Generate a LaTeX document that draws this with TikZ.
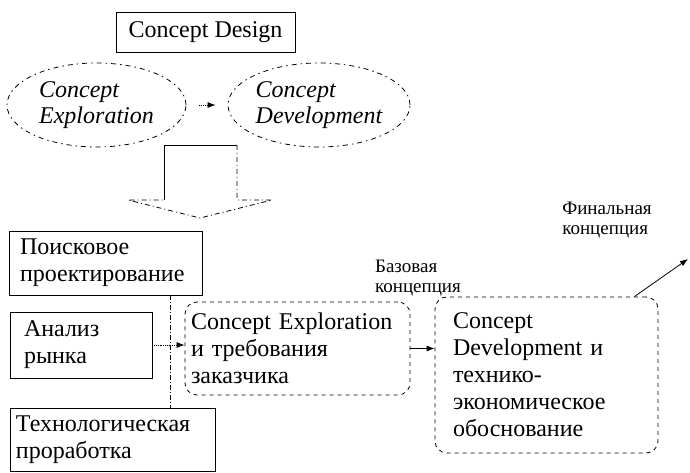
\documentclass[tikz,border=0pt]{standalone}
\usepackage{fontspec}
\setmainfont{Liberation Serif}
\usetikzlibrary{arrows.meta,shapes.geometric}

\begin{document}
\begin{tikzpicture}[x=1pt, y=1pt, line width=0.8pt,
  font=\fontsize{24}{27}\selectfont,
  box/.style={draw, align=left, inner ysep=0pt},
  oval/.style={draw, ellipse, inner sep=0pt, align=left,
    dash pattern=on 5pt off 4pt on 1.5pt off 4pt,
    font=\fontsize{24}{26}\selectfont\itshape},
  rbox/.style={draw, rounded corners=12pt, align=left, inner ysep=0pt,
    dash pattern=on 4pt off 4pt},
  busline/.style={dash pattern=on 5pt off 2pt on 1pt off 2pt},
  lbl/.style={align=left, inner sep=0pt, font=\fontsize{19}{20}\selectfont},
  pointer/.style={-{Latex[length=8pt,width=6pt]}}]
\useasboundingbox (0,0) rectangle (690,473);
% concept design
\node[box, minimum width=179, minimum height=40] (design) at (205.5,441) {Concept Design};
\node[oval, minimum width=179, minimum height=84] (explo) at (96.5,368) {Concept\\ Exploration};
\node[oval, minimum width=182, minimum height=84] (devel) at (319,368) {Concept\\ Development};
\draw[pointer, densely dotted, shorten <=13pt, shorten >=12pt] (explo) -- (devel);
% block arrow down
\draw (164,273) -- (164,328) -- (237,328);
\draw[dash pattern=on 5pt off 3pt on 1pt off 3pt] (237,328) -- (237,273) -- (272,273) -- (200,255) -- (128,273) -- (164,273);
% inputs
\node[box, text width=171, inner xsep=11, minimum height=64] (poisk) at (105.5,210) {Поисковое\\ проектирование};
\node[box, text width=114, inner xsep=14, minimum height=66] (rynok) at (81,128) {Анализ\\ рынка};
\node[box, text width=193, inner xsep=6, minimum height=63] (tekh) at (112.5,33.5) {Технологическая\\ проработка};
\coordinate (bus) at (170,0);
\draw[busline] (poisk.south -| bus) -- (tekh.north -| bus);
% stages
\node[rbox, text width=213, inner xsep=6, minimum height=93] (cexp) at (297.5,124.5) {Concept Exploration\\ и требования\\ заказчика};
\draw[pointer, densely dotted] (rynok.east) -- (rynok.east -| cexp.west);
\node[rbox, text width=187, inner xsep=18, minimum height=156] (cdev) at (546.5,98) {Concept\\ Development и\\ технико-\\ экономическое\\ обоснование};
\draw[pointer] (cexp.east) -- (cexp.east -| cdev.west);
\node[lbl] (base) at (418,195) {Базовая\\ концепция};
\node[lbl] (final) at (607,253) {Финальная\\ концепция};
\coordinate (out) at (688,214);
\draw[pointer] ([xshift=-24pt]cdev.north east) -- (out);
\end{tikzpicture}
\end{document}
